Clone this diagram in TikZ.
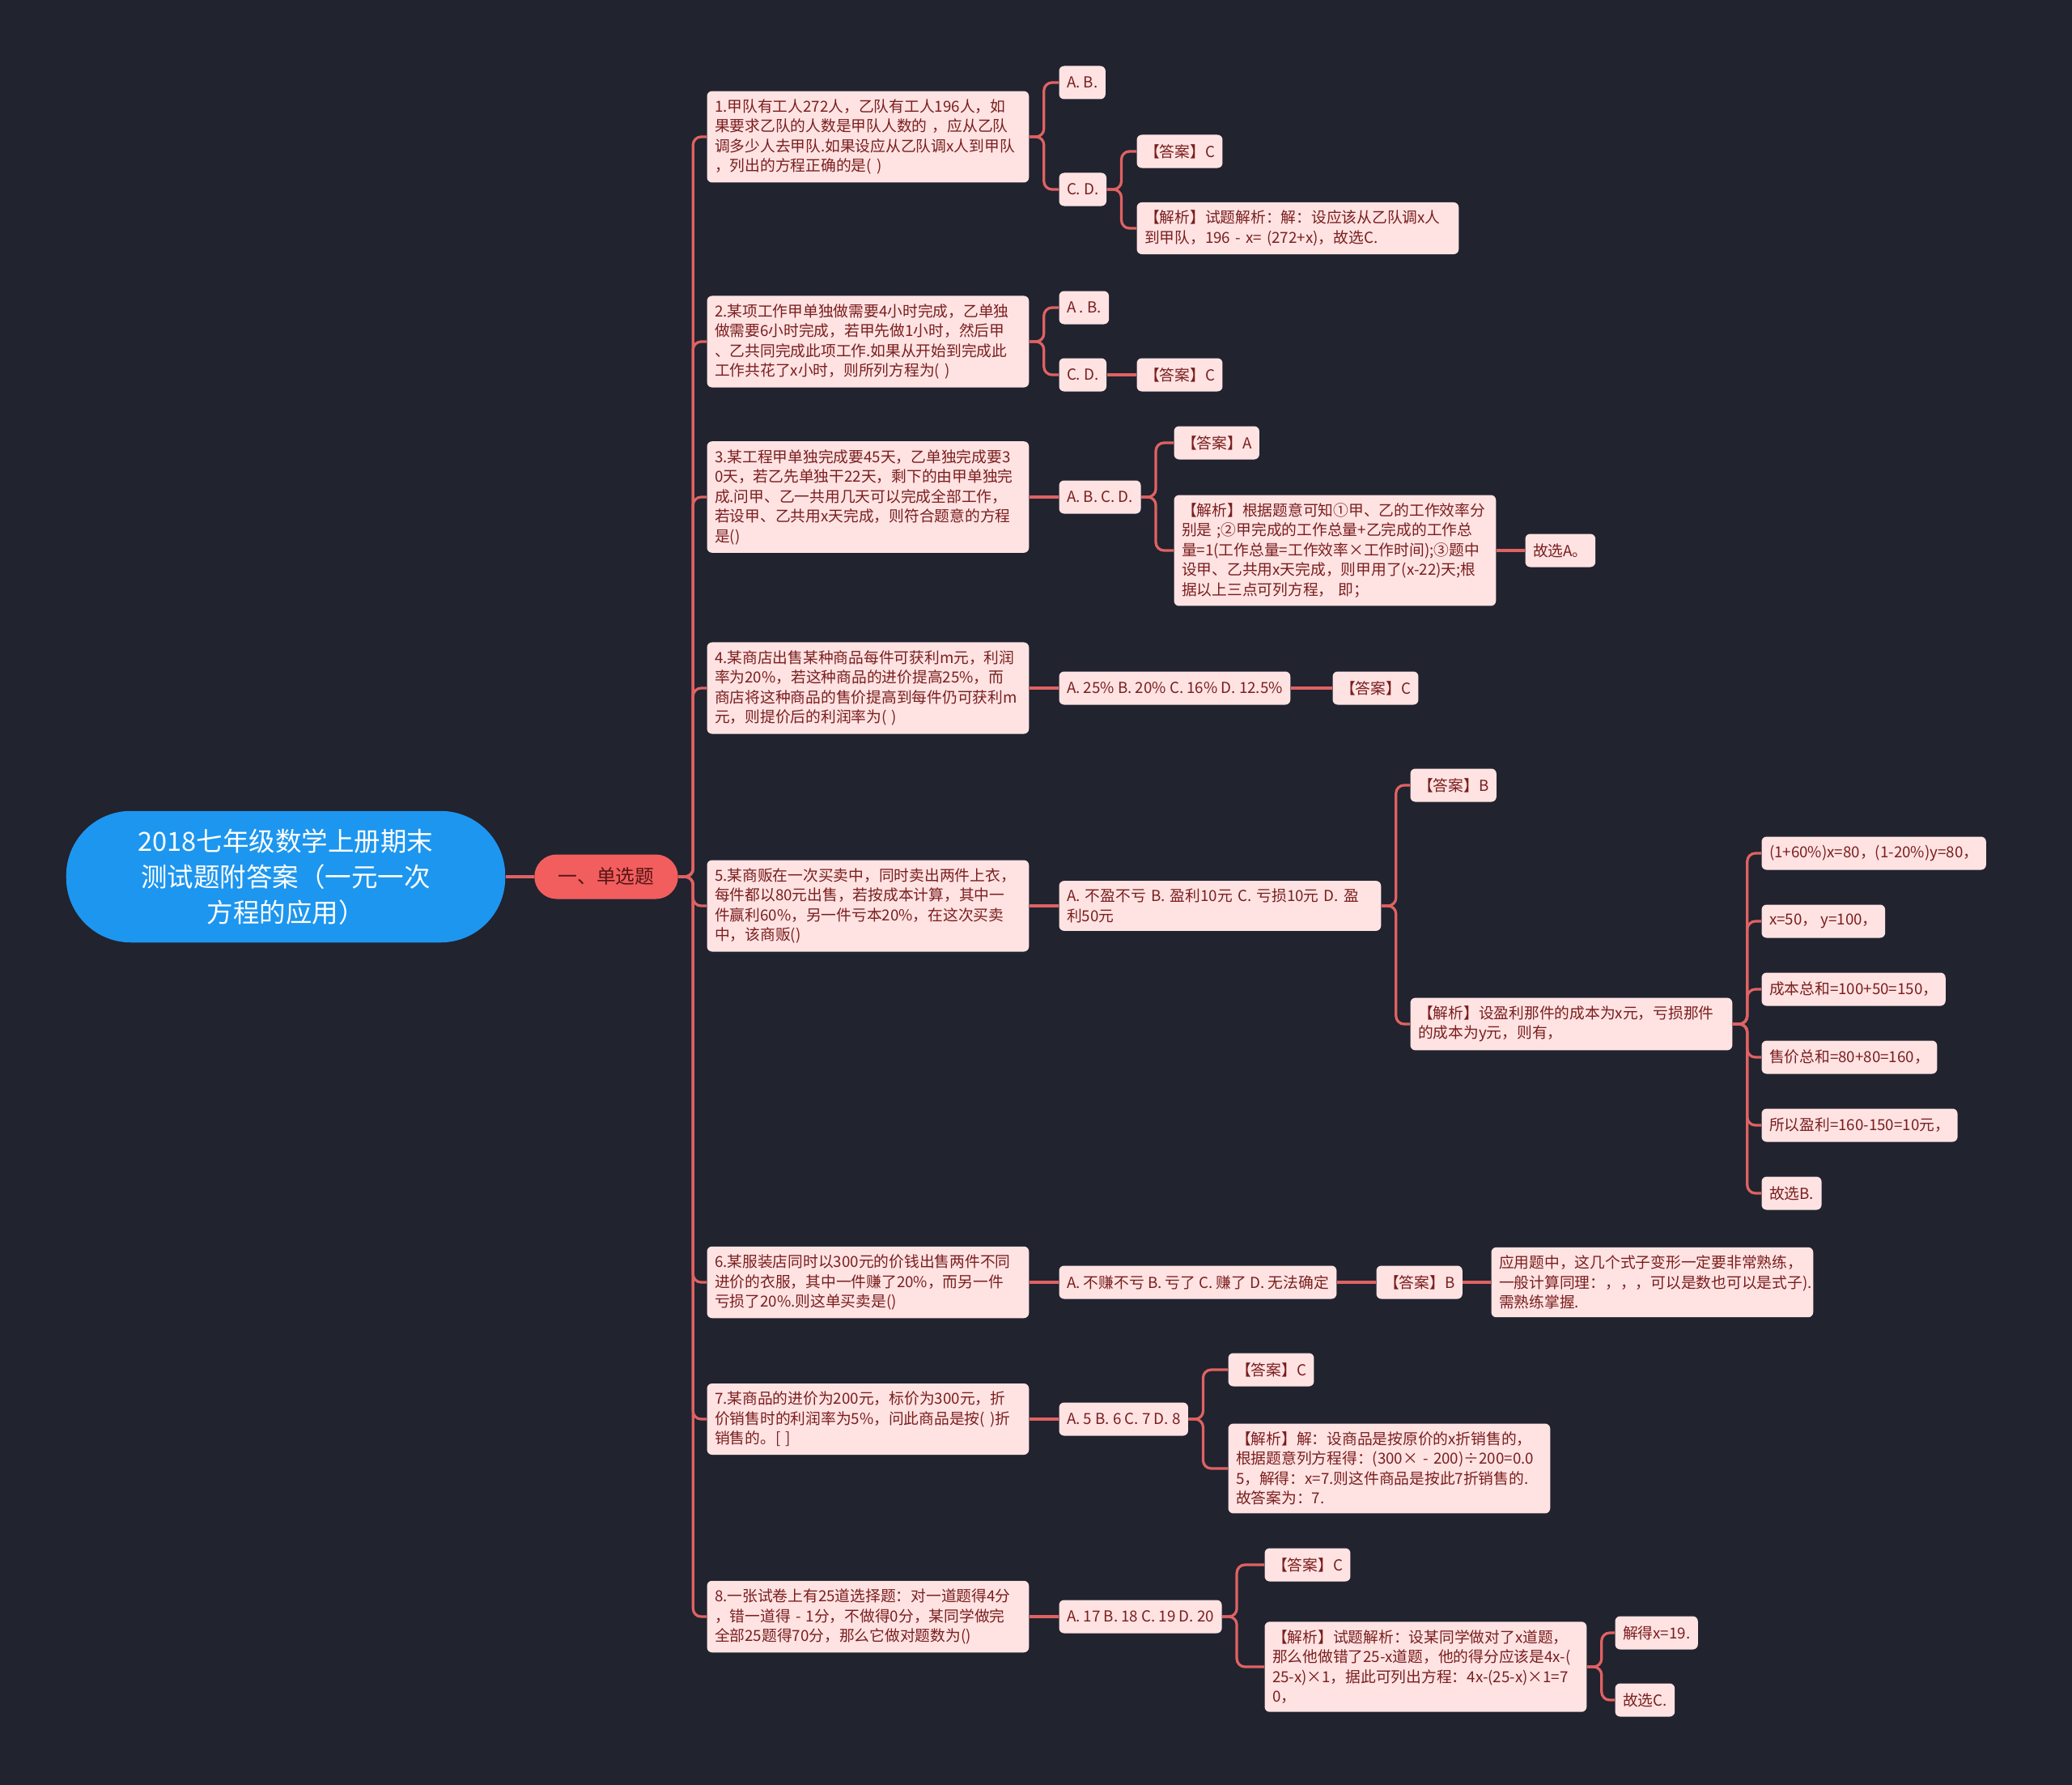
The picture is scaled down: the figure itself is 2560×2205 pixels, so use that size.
\documentclass[tikz,border=0pt]{standalone}
\usepackage{fontspec}
\setmainfont{Noto Sans CJK SC}
\usetikzlibrary{positioning}
\definecolor{bg}{HTML}{21232F}
\definecolor{leaf}{HTML}{FFE3E3}
\definecolor{ink}{HTML}{7A1E1E}
\definecolor{wire}{HTML}{E06262}
\definecolor{rootc}{HTML}{1D96EF}
\definecolor{subc}{HTML}{F25E5E}
\begin{document}
\begin{tikzpicture}[x=0.4pt,y=-0.4pt,
 root/.style={fill=rootc,text=white,rounded corners=32pt,minimum width=217pt,minimum height=65pt,align=center,font=\fontsize{13}{17.6}\selectfont},
 sub/.style={fill=subc,text=ink!70!black,rounded corners=11pt,minimum width=71pt,minimum height=22pt,font=\fontsize{9.5}{12}\selectfont},
 box/.style={fill=leaf,text=ink,rounded corners=2.5pt,anchor=west,inner xsep=3.8pt,inner ysep=4pt,minimum height=16.4pt,align=left,font=\fontsize{7.5}{9.8}\selectfont},
 wide/.style={box,text width=151.5pt},
 link/.style={draw=wire,line width=1.3pt,rounded corners=4pt}]
\fill[bg] (0,0) rectangle (2560,2205);
% root and first level
\node[root] (r) at (353,1083) {2018七年级数学上册期末\\测试题附答案（一元一次\\方程的应用）};
\node[sub] (s) at (749,1083) {一、单选题};
% questions
\node[wide] (q1) at (873,169) {1.甲队有工人272人，乙队有工人196人，如\\果要求乙队的人数是甲队人数的 ，应从乙队\\调多少人去甲队.如果设应从乙队调x人到甲队\\，列出的方程正确的是( )};
\node[wide] (q2) at (873,422) {2.某项工作甲单独做需要4小时完成，乙单独\\做需要6小时完成，若甲先做1小时，然后甲\\、乙共同完成此项工作.如果从开始到完成此\\工作共花了x小时，则所列方程为( )};
\node[wide] (q3) at (873,614) {3.某工程甲单独完成要45天，乙单独完成要3\\0天，若乙先单独干22天，剩下的由甲单独完\\成.问甲、乙一共用几天可以完成全部工作，\\若设甲、乙共用x天完成，则符合题意的方程\\是()};
\node[wide] (q4) at (873,850) {4.某商店出售某种商品每件可获利m元，利润\\率为20\%，若这种商品的进价提高25\%，而\\商店将这种商品的售价提高到每件仍可获利m\\元，则提价后的利润率为( )};
\node[wide] (q5) at (873,1119) {5.某商贩在一次买卖中，同时卖出两件上衣，\\每件都以80元出售，若按成本计算，其中一\\件赢利60\%，另一件亏本20\%，在这次买卖\\中，该商贩()};
\node[wide] (q6) at (873,1584) {6.某服装店同时以300元的价钱出售两件不同\\进价的衣服，其中一件赚了20\%，而另一件\\亏损了20\%.则这单买卖是()};
\node[wide] (q7) at (873,1753) {7.某商品的进价为200元，标价为300元，折\\价销售时的利润率为5\%，问此商品是按( )折\\销售的。[ ]};
\node[wide] (q8) at (873,1997) {8.一张试卷上有25道选择题：对一道题得4分\\，错一道得 - 1分，不做得0分，某同学做完\\全部25题得70分，那么它做对题数为()};
% question 1
\node[box] (q1a) at (1308,102) {A. B.};
\node[box] (q1b) at (1308,234) {C. D.};
\node[box] (q1b1) at (1404,187) {【答案】C};
\node[wide] (q1b2) at (1404,282) {【解析】试题解析：解：设应该从乙队调x人\\到甲队，196 - x= (272+x)，故选C.};
% question 2
\node[box] (q2a) at (1308,380) {A . B.};
\node[box] (q2b) at (1308,463) {C. D.};
\node[box] (q2b1) at (1404,463) {【答案】C};
% question 3
\node[box] (q3a) at (1308,614) {A. B. C. D.};
\node[box] (q3a1) at (1450,547) {【答案】A};
\node[wide] (q3a2) at (1450,680) {【解析】根据题意可知①甲、乙的工作效率分\\别是 ;②甲完成的工作总量+乙完成的工作总\\量=1(工作总量=工作效率×工作时间);③题中\\设甲、乙共用x天完成，则甲用了(x-22)天;根\\据以上三点可列方程， 即；};
\node[box] (q3a2a) at (1884,680) {故选A。};
% question 4
\node[box] (q4a) at (1308,850) {A. 25\% B. 20\% C. 16\% D. 12.5\%};
\node[box] (q4a1) at (1646,850) {【答案】C};
% question 5
\node[wide] (q5a) at (1308,1119) {A. 不盈不亏 B. 盈利10元 C. 亏损10元 D. 盈\\利50元};
\node[box] (q5a1) at (1742,970) {【答案】B};
\node[wide] (q5a2) at (1742,1265) {【解析】设盈利那件的成本为x元，亏损那件\\的成本为y元，则有，};
\node[box] (q5s1) at (2176,1054) {(1+60\%)x=80，(1-20\%)y=80，};
\node[box] (q5s2) at (2176,1138) {x=50， y=100，};
\node[box] (q5s3) at (2176,1222) {成本总和=100+50=150，};
\node[box] (q5s4) at (2176,1306) {售价总和=80+80=160，};
\node[box] (q5s5) at (2176,1390) {所以盈利=160-150=10元，};
\node[box] (q5s6) at (2176,1474) {故选B.};
% question 6
\node[box] (q6a) at (1308,1584) {A. 不赚不亏 B. 亏了 C. 赚了 D. 无法确定};
\node[box] (q6a1) at (1700,1584) {【答案】B};
\node[wide] (q6a1a) at (1842,1584) {应用题中，这几个式子变形一定要非常熟练，\\一般计算同理：，，，可以是数也可以是式子).\\需熟练掌握.};
% question 7
\node[box] (q7a) at (1308,1753) {A. 5 B. 6 C. 7 D. 8};
\node[box] (q7a1) at (1517,1692) {【答案】C};
\node[wide] (q7a2) at (1517,1814) {【解析】解：设商品是按原价的x折销售的，\\根据题意列方程得：(300×  - 200)÷200=0.0\\5，解得：x=7.则这件商品是按此7折销售的.\\故答案为：7.};
% question 8
\node[box] (q8a) at (1308,1997) {A. 17 B. 18 C. 19 D. 20};
\node[box] (q8a1) at (1562,1933) {【答案】C};
\node[wide] (q8a2) at (1562,2059) {【解析】试题解析：设某同学做对了x道题，\\那么他做错了25-x道题，他的得分应该是4x-(\\25-x)×1，据此可列出方程：4x-(25-x)×1=7\\0，};
\node[box] (q8a2a) at (1995,2017) {解得x=19.};
\node[box] (q8a2b) at (1995,2100) {故选C.};
% connectors: elbows, then straight ones
\foreach \a/\b in {s/q1,s/q2,s/q3,s/q4,s/q5,s/q6,s/q7,s/q8,
  q1/q1a,q1/q1b,q1b/q1b1,q1b/q1b2,q2/q2a,q2/q2b,
  q3a/q3a1,q3a/q3a2,q5a/q5a1,q5a/q5a2,
  q5a2/q5s1,q5a2/q5s2,q5a2/q5s3,q5a2/q5s4,q5a2/q5s5,q5a2/q5s6,
  q7a/q7a1,q7a/q7a2,q8a/q8a1,q8a/q8a2,q8a2/q8a2a,q8a2/q8a2b}
  \draw[link] (\a.east) -- ++(18,0) |- (\b.west);
\foreach \a/\b in {r/s,q2b/q2b1,q3/q3a,q3a2/q3a2a,q4/q4a,q4a/q4a1,
  q5/q5a,q6/q6a,q6a/q6a1,q6a1/q6a1a,q7/q7a,q8/q8a}
  \draw[link] (\a.east) -- (\b.west);
\end{tikzpicture}
\end{document}
